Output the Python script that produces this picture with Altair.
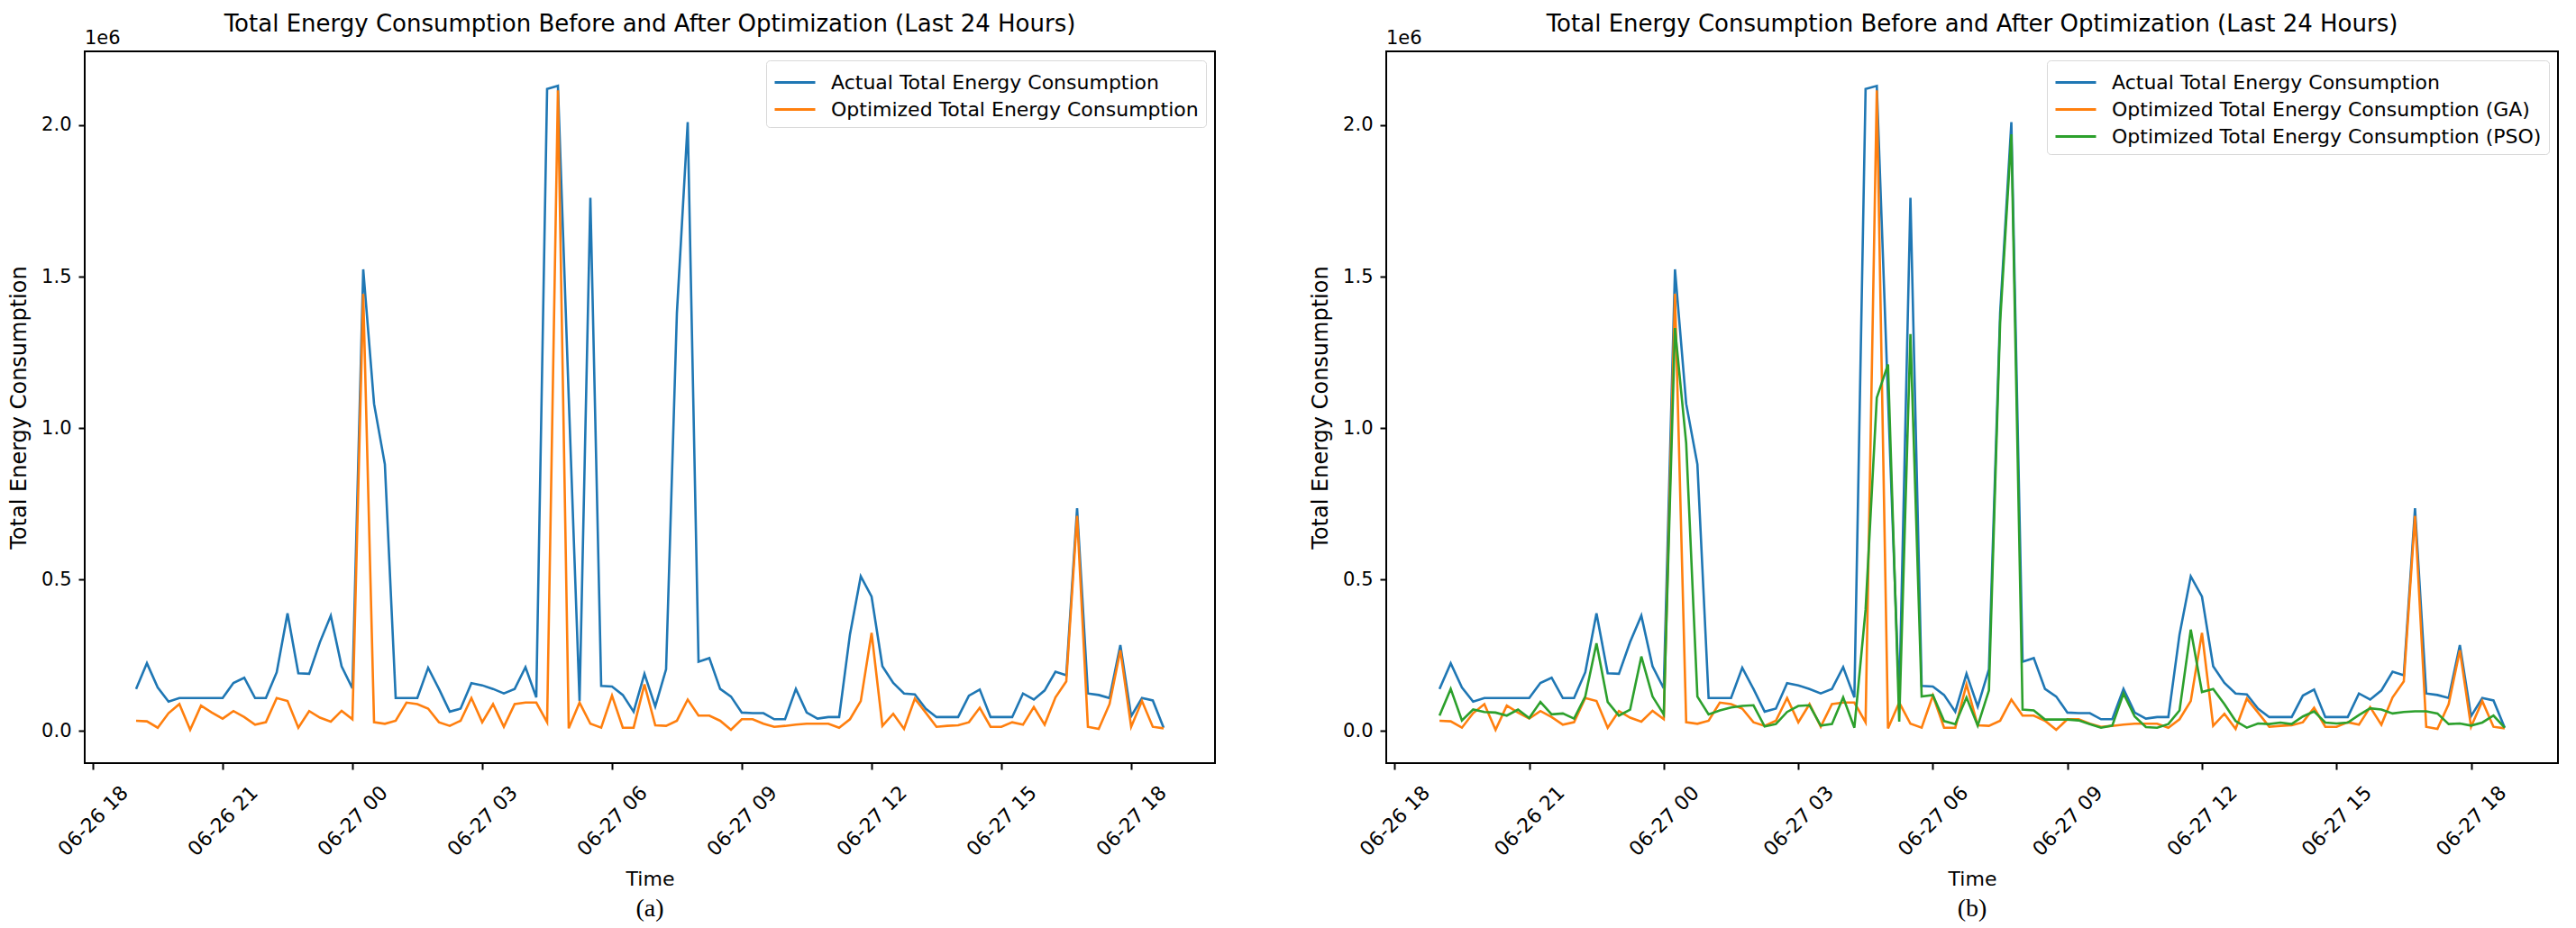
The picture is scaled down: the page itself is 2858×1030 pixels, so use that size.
import altair as alt
import pandas as pd

# ---------------- data (values in units of 1e6) ----------------
times = pd.date_range("2024-06-26 19:00", periods=96, freq="15min")

actual = [0.138, 0.223, 0.143, 0.096, 0.108, 0.108, 0.108, 0.108, 0.108, 0.158,
          0.175, 0.108, 0.108, 0.193, 0.388, 0.190, 0.188, 0.293, 0.380, 0.213,
          0.140, 1.524, 1.080, 0.880, 0.108, 0.108, 0.108, 0.208, 0.138, 0.063,
          0.073, 0.157, 0.150, 0.138, 0.123, 0.138, 0.210, 0.110, 2.120, 2.130,
          1.100, 0.098, 1.760, 0.148, 0.146, 0.118, 0.063, 0.188, 0.080, 0.203,
          1.380, 2.010, 0.228, 0.240, 0.138, 0.113, 0.060, 0.058, 0.058, 0.038,
          0.038, 0.138, 0.060, 0.040, 0.045, 0.045, 0.318, 0.510, 0.443, 0.213,
          0.158, 0.123, 0.120, 0.073, 0.045, 0.045, 0.045, 0.116, 0.136, 0.045,
          0.045, 0.045, 0.123, 0.103, 0.133, 0.195, 0.183, 0.735, 0.123, 0.118,
          0.108, 0.283, 0.048, 0.108, 0.100, 0.010]

ga = [0.033, 0.031, 0.010, 0.058, 0.088, 0.003, 0.083, 0.060, 0.040, 0.065,
      0.045, 0.020, 0.028, 0.108, 0.098, 0.010, 0.065, 0.043, 0.030, 0.066,
      0.038, 1.443, 0.028, 0.023, 0.033, 0.093, 0.088, 0.073, 0.028, 0.016,
      0.033, 0.108, 0.028, 0.088, 0.013, 0.088, 0.093, 0.093, 0.028, 2.115,
      0.008, 0.093, 0.023, 0.010, 0.116, 0.010, 0.010, 0.153, 0.018, 0.016,
      0.033, 0.103, 0.050, 0.050, 0.033, 0.003, 0.038, 0.038, 0.023, 0.013,
      0.016, 0.020, 0.023, 0.023, 0.023, 0.010, 0.038, 0.098, 0.323, 0.016,
      0.056, 0.006, 0.106, 0.060, 0.013, 0.016, 0.018, 0.028, 0.076, 0.013,
      0.013, 0.028, 0.020, 0.078, 0.020, 0.110, 0.163, 0.710, 0.013, 0.006,
      0.088, 0.266, 0.013, 0.098, 0.013, 0.008]

pso = [0.050, 0.138, 0.034, 0.070, 0.062, 0.060, 0.050, 0.070, 0.042, 0.095,
       0.054, 0.057, 0.040, 0.113, 0.289, 0.095, 0.050, 0.070, 0.245, 0.113,
       0.054, 1.330, 0.950, 0.113, 0.054, 0.067, 0.077, 0.082, 0.084, 0.014,
       0.022, 0.062, 0.082, 0.084, 0.017, 0.022, 0.110, 0.010, 0.400, 1.100,
       1.210, 0.030, 1.310, 0.113, 0.118, 0.032, 0.022, 0.110, 0.017, 0.133,
       1.350, 1.970, 0.070, 0.067, 0.037, 0.037, 0.037, 0.034, 0.022, 0.010,
       0.017, 0.123, 0.047, 0.012, 0.010, 0.022, 0.067, 0.334, 0.128, 0.138,
       0.088, 0.032, 0.010, 0.024, 0.022, 0.027, 0.022, 0.047, 0.064, 0.027,
       0.024, 0.027, 0.052, 0.074, 0.070, 0.057, 0.062, 0.064, 0.064, 0.057,
       0.022, 0.024, 0.017, 0.027, 0.050, 0.010]

LBL_ACT = "Actual Total Energy Consumption"
LBL_OPT = "Optimized Total Energy Consumption"
LBL_GA = "Optimized Total Energy Consumption (GA)"
LBL_PSO = "Optimized Total Energy Consumption (PSO)"
TITLE = "Total Energy Consumption Before and After Optimization (Last 24 Hours)"

y_ticks = [0, 500000, 1000000, 1500000, 2000000]
x_tick_hours = [(26, 18), (26, 21), (27, 0), (27, 3), (27, 6), (27, 9), (27, 12), (27, 15), (27, 18)]

# ---------------- style ----------------
FONT = "DejaVu Sans"
BLUE, ORANGE, GREEN = "#1f77b4", "#ff7f0e", "#2ca02c"
H = 790

x_domain = [alt.DateTime(year=2024, month=6, date=26, hours=17, minutes=48, seconds=45),
            alt.DateTime(year=2024, month=6, date=27, hours=19, minutes=56, seconds=15)]
x_values = [alt.DateTime(year=2024, month=6, date=d, hours=h) for d, h in x_tick_hours]


def panel(series, width, caption):
    domain = [s[0] for s in series]
    rng = [s[2] for s in series]
    cscale = alt.Scale(domain=domain, range=rng)
    legend = alt.Legend(orient="top-right", offset=10, title=None, fillColor="white",
                        strokeColor="#d9d9d9", cornerRadius=4, padding=8,
                        labelFontSize=22, labelFont=FONT, labelColor="black",
                        symbolType="M-1,0H2", symbolStrokeWidth=3, symbolSize=900,
                        symbolFillColor="transparent",
                        rowPadding=2, labelOffset=31, labelLimit=0)
    xaxis = alt.Axis(values=x_values, format="%m-%d %H", labelAngle=-45,
                     labelAlign="center", labelBaseline="middle", labelPadding=57,
                     labelFlush=False, labelOverlap=False, labelFontSize=22,
                     tickSize=7, tickWidth=2, title="Time", titleFontSize=22,
                     titleFontWeight="normal", titleY=128, titleBaseline="middle")
    yaxis = alt.Axis(values=y_ticks, labelExpr="format(datum.value/1000000, '.1f')",
                     labelFontSize=21, labelPadding=8, tickSize=7, tickWidth=2,
                     title="Total Energy Consumption", titleFontSize=24,
                     titleFontWeight="normal", titleX=-73, titleY=H / 2,
                     titleAngle=270, titleBaseline="middle")
    xscale = alt.Scale(domain=x_domain)
    yscale = alt.Scale(domain=[-107000, 2244000], nice=False, zero=False)
    layers = []
    for lab, vals, col in series:
        df = pd.DataFrame({"time": times, "value": [v * 1e6 for v in vals], "series": lab})
        layers.append(
            alt.Chart(df).mark_line(strokeWidth=2.6, clip=True).encode(
                x=alt.X("time:T", scale=xscale, axis=xaxis),
                y=alt.Y("value:Q", scale=yscale, axis=yaxis),
                color=alt.Color("series:N", scale=cscale, legend=legend),
            )
        )
    title_txt = alt.Chart(pd.DataFrame({"t": [TITLE]})).mark_text(
        align="center", baseline="alphabetic", fontSize=26, font=FONT, color="black"
    ).encode(x=alt.value(width / 2), y=alt.value(-22), text="t:N")
    offset_txt = alt.Chart(pd.DataFrame({"t": ["1e6"]})).mark_text(
        align="left", baseline="alphabetic", fontSize=21, font=FONT, color="black"
    ).encode(x=alt.value(0), y=alt.value(-8), text="t:N")
    cap_txt = alt.Chart(pd.DataFrame({"t": [caption]})).mark_text(
        align="center", baseline="middle", fontSize=28, font="Liberation Serif", color="black"
    ).encode(x=alt.value(width / 2), y=alt.value(H + 162), text="t:N")
    return alt.layer(*layers, title_txt, offset_txt, cap_txt).properties(
        width=width, height=H,
    )


pa = panel([(LBL_ACT, actual, BLUE), (LBL_OPT, ga, ORANGE)], 1254, "(a)")
pb = panel([(LBL_ACT, actual, BLUE), (LBL_GA, ga, ORANGE), (LBL_PSO, pso, GREEN)], 1300, "(b)")

chart = (
    alt.hconcat(pa, pb, spacing=103)
    .resolve_scale(color="independent", x="independent", y="independent")
    .resolve_legend(color="independent")
    .properties(padding={"left": 0, "top": 5, "right": 0, "bottom": 0}, background="white")
    .configure_view(stroke="black", strokeWidth=2, fill="white")
    .configure_axis(labelFont=FONT, titleFont=FONT, labelColor="black", titleColor="black",
                    tickColor="black", domain=False, grid=False)
)

chart.save("out.html", embed_options={"renderer": "svg", "actions": False})
